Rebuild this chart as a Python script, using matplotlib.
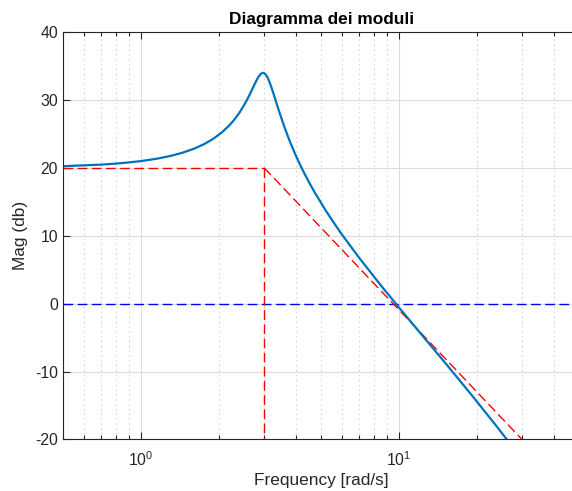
import numpy as np
import matplotlib
matplotlib.use("Agg")
import matplotlib.pyplot as plt
from matplotlib.ticker import LogLocator, FixedLocator, NullFormatter

# frequency points [rad/s] and magnitude [dB]
freq = [0.5, 0.7, 0.8, 0.9, 1.0, 1.15, 1.3, 1.45, 1.6, 1.75, 1.9, 2.05,
        2.2, 2.3, 2.4, 2.5, 2.6, 2.65, 2.7, 2.75, 2.8, 2.85, 2.9, 2.95,
        2.97, 3.0, 3.05, 3.1, 3.15, 3.2, 3.25, 3.3, 3.375, 3.45, 3.6, 3.7,
        3.8, 4.0, 4.15, 4.3, 4.5, 4.7, 5.2, 5.6, 6.0, 7.0, 8.5, 10, 12, 15,
        19, 24, 28, 30]
mag = [20.24, 20.47, 20.62, 20.80, 20.99, 21.34, 21.75, 22.23, 22.80,
       23.46, 24.25, 25.17, 26.26, 27.11, 28.06, 29.14, 30.33, 30.96,
       31.61, 32.25, 32.85, 33.37, 33.76, 33.96, 33.98, 33.94, 33.67,
       33.21, 32.58, 31.86, 31.08, 30.29, 29.11, 27.99, 25.94, 24.72,
       23.60, 21.62, 20.32, 19.14, 17.72, 16.44, 13.70, 11.85, 10.21,
       6.77, 2.70, -0.57, -4.18, -8.58, -13.32, -18.14, -21.42, -22.93]

# asymptotic approximation (red dashed)
asym_flat_w = [0.5, 3]
asym_flat_db = [20, 20]
asym_vert_w = [3, 3]
asym_vert_db = [20, -20]
asym_slope_w = [3, 30]
asym_slope_db = [20, -20]

plt.rcParams['font.family'] = ['Liberation Sans', 'DejaVu Sans']
plt.rcParams['mathtext.fontset'] = 'custom'
plt.rcParams['mathtext.rm'] = 'Liberation Sans'
plt.rcParams['lines.scale_dashes'] = False
plt.rcParams['axes.unicode_minus'] = False

fig = plt.figure(figsize=(5.72, 4.91), dpi=100)
ax = fig.add_axes([0.111, 0.1049, 0.9017, 0.830])

dash = (7.0, 3.2)
ax.plot([0.5, 50], [0, 0], color='#0000FF', lw=1.0, dashes=dash)
ax.plot(asym_flat_w, asym_flat_db, color='#FF0000', lw=1.0, dashes=dash)
ax.plot(asym_vert_w, asym_vert_db, color='#FF0000', lw=1.0, dashes=dash)
ax.plot(asym_slope_w, asym_slope_db, color='#FF0000', lw=1.0, dashes=dash)
ax.plot(freq, mag, color='#0072BD', lw=1.6)

ax.set_xscale('log')
ax.set_xlim(0.5, 50)
ax.set_ylim(-20, 40)
ax.set_yticks(range(-20, 41, 10))
ax.xaxis.set_major_locator(FixedLocator([1, 10, 100]))
ax.set_xticklabels(['$10^{0}$', '$10^{1}$', '$10^{2}$'])
ax.xaxis.set_minor_locator(LogLocator(base=10, subs=np.arange(2, 10), numticks=20))
ax.xaxis.set_minor_formatter(NullFormatter())

ax.grid(True, which='major', color='#DCDCDC', lw=0.8, ls='-')
ax.grid(True, which='minor', axis='x', color='#CFCFCF', lw=0.8, ls=(0, (1, 2.5)))
ax.set_axisbelow(True)

for s in ax.spines.values():
    s.set_color('#262626')
    s.set_linewidth(0.8)

ax.tick_params(which='both', direction='in', top=True, right=True,
               colors='#262626', labelsize=11.3, width=0.8)
ax.tick_params(which='major', length=5, pad=4)
ax.tick_params(axis='x', which='major', pad=8)
ax.tick_params(which='minor', length=3)

ax.set_title('Diagramma dei moduli', fontsize=12.4, fontweight='bold', pad=6)
ax.set_xlabel('Frequency [rad/s]', fontsize=12.4, color='#262626', labelpad=3)
ax.set_ylabel('Mag (db)', fontsize=12.4, color='#262626', labelpad=5)

fig.savefig('out.png', dpi=100)
